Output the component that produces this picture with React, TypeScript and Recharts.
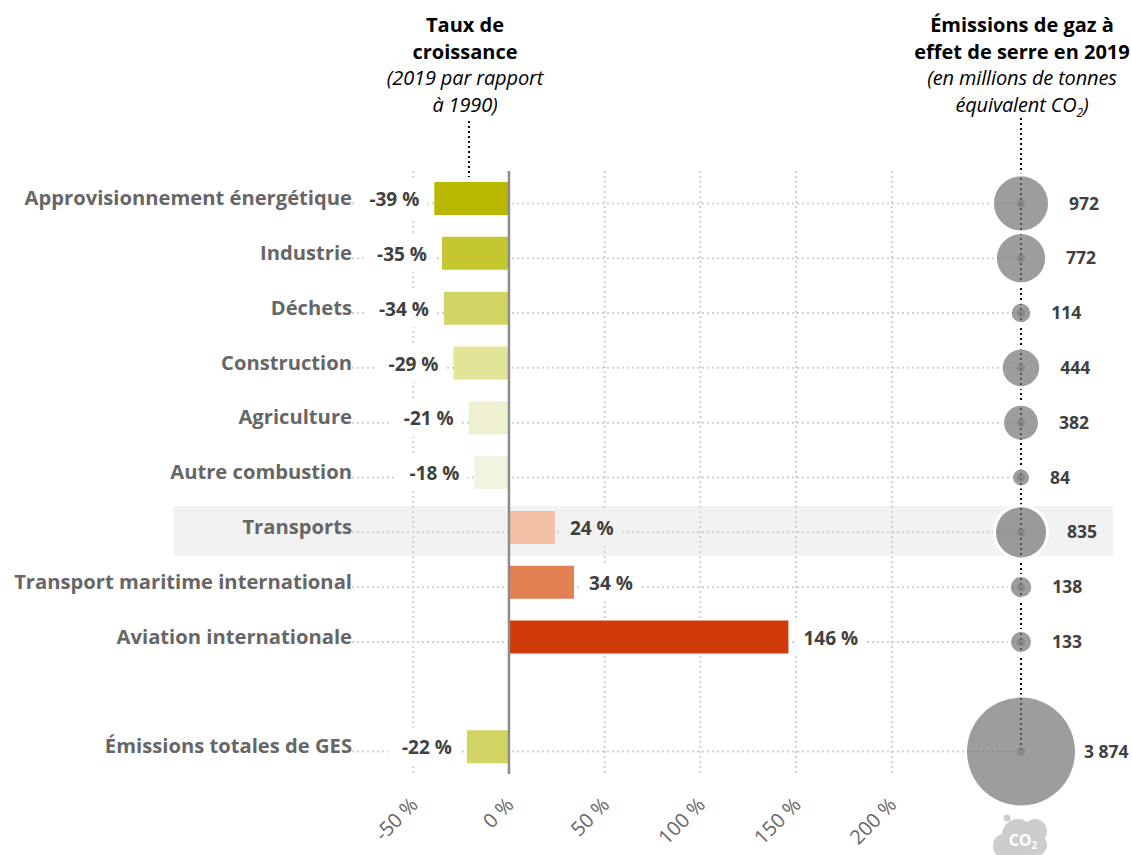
import React from 'react';
import {
  Bar,
  CartesianGrid,
  Cell,
  ComposedChart,
  LabelList,
  ReferenceLine,
  Scatter,
  XAxis,
  YAxis,
  ZAxis,
} from 'recharts';

const sectors = [
  'Approvisionnement énergétique',
  'Industrie',
  'Déchets',
  'Construction',
  'Agriculture',
  'Autre combustion',
  'Transports',
  'Transport maritime international',
  'Aviation internationale',
  ' ',
  'Émissions totales de GES',
];
const growthRates = [-39, -35, -34, -29, -21, -18, 24, 34, 146, null, -22];
const emissions = [972, 772, 114, 444, 382, 84, 835, 138, 133, null, 3874];
const barColors = [
  '#b8b900',
  '#c4c72f',
  '#d2d464',
  '#e2e498',
  '#eff0cf',
  '#f2f4e2',
  '#f4c1a7',
  '#e28054',
  '#d13b0c',
  '#ffffff',
  '#d2d464',
];
const percentTicks = [-50, 0, 50, 100, 150, 200];

const rows = sectors.map((name, i) => ({
  name,
  growth: growthRates[i],
  emissions: emissions[i],
}));

const FONT = '"Open Sans", sans-serif';
const HIGHLIGHT = 'Transports';
const BAND_GREY = '#f2f2f2';
// the bubble column sits on the right edge of the plot
const DOMAIN: [number, number] = [-82, 267.5];
const BUBBLE_COLUMN = DOMAIN[1];
const MAX_BUBBLE_RADIUS = 54;

const formatPercent = (v: number) => `${v} %`;
const formatTonnes = (v: number) =>
  String(v).replace(/\B(?=(\d{3})+$)/g, ' ');

const GrowthLabel = (props: any) => {
  const { x, y, width, height, value, index } = props;
  if (value == null) return null;
  const left = Math.min(x, x + width);
  const right = Math.max(x, x + width);
  const text = formatPercent(value);
  // white box knocks the dotted grid out behind the figure
  const textWidth = text.length * 10.7;
  const textX = value < 0 ? left - 15 : right + 15;
  const boxX = value < 0 ? textX - textWidth - 10 : textX - 8;
  const midY = y + height / 2;
  const fill = rows[index]?.name === HIGHLIGHT ? BAND_GREY : '#fff';
  return (
    <g>
      <rect
        x={boxX}
        y={midY - 19}
        width={textWidth + 18}
        height={38}
        fill={fill}
      />
      <text
        x={textX}
        y={midY + 1}
        dy="0.35em"
        textAnchor={value < 0 ? 'end' : 'start'}
        fontFamily={FONT}
        fontWeight={700}
        fontSize={19}
        fill="#404040"
      >
        {text}
      </text>
    </g>
  );
};

const Bubble = (props: any) => {
  const { cx, cy, payload } = props;
  if (payload.emissions == null) return <g />;
  const r = MAX_BUBBLE_RADIUS * Math.sqrt(payload.emissions / 3874);
  const gap = payload.emissions > 3000 ? 9 : 21;
  return (
    <g>
      <circle cx={cx} cy={cy} r={r + 1.5} fill="none" stroke="#fff" strokeWidth={3} />
      <circle cx={cx} cy={cy} r={r} fill="#747474" fillOpacity={0.7} />
      <circle cx={cx} cy={cy} r={4} fill="#7c7c7c" fillOpacity={0.6} />
      <text
        x={cx + r + gap}
        y={cy}
        dy="0.35em"
        fontFamily={FONT}
        fontWeight={700}
        fontSize={17.5}
        fill="#404040"
      >
        {formatTonnes(payload.emissions)}
      </text>
    </g>
  );
};

const titleStyle: React.CSSProperties = {
  position: 'absolute',
  textAlign: 'center',
  fontFamily: FONT,
  fontSize: 20,
  lineHeight: '26.6px',
  color: '#000',
};

const ColumnTitle = ({
  center,
  bold,
  italic,
}: {
  center: number;
  bold: React.ReactNode;
  italic: React.ReactNode;
}) => (
  <div style={{ ...titleStyle, left: center - 130, width: 260, top: 12 }}>
    <div style={{ fontWeight: 700 }}>{bold}</div>
    <div style={{ fontStyle: 'italic', letterSpacing: -0.15 }}>{italic}</div>
  </div>
);

// highlight strip and the two dark leaders from the column titles
const Underlay = () => (
  <svg
    width={1132}
    height={855}
    style={{ position: 'absolute', left: 0, top: 0 }}
  >
    <rect x={174} y={506} width={939} height={50} fill={BAND_GREY} />
    <line
      x1={469}
      y1={121}
      x2={469}
      y2={177}
      stroke="#000"
      strokeWidth={2}
      strokeDasharray="2 3"
    />
    <line
      x1={1021}
      y1={118}
      x2={1021}
      y2={751}
      stroke="#000"
      strokeWidth={2}
      strokeDasharray="2 3"
    />
  </svg>
);

const Co2Cloud = () => (
  <svg
    width={1132}
    height={855}
    style={{ position: 'absolute', left: 0, top: 0, pointerEvents: 'none' }}
  >
    <g fill="#cdcdcd">
      <circle cx={1007} cy={818} r={3.5} />
      <circle cx={1018} cy={835} r={16} />
      <circle cx={1006} cy={846} r={13} />
      <circle cx={1035} cy={831} r={12} />
      <circle cx={1036} cy={845} r={11} />
      <circle cx={1022} cy={850} r={15} />
    </g>
    <text
      x={1023}
      y={846}
      textAnchor="middle"
      fontFamily={FONT}
      fontWeight={700}
      fontSize={16}
      fill="#fff"
    >
      CO
      <tspan fontSize={10} dy={3}>
        2
      </tspan>
    </text>
  </svg>
);

export default function App() {
  return (
    <div
      style={{
        position: 'absolute',
        left: 0,
        top: 0,
        width: 1132,
        height: 855,
        overflow: 'hidden',
        background: '#fff',
      }}
    >
      <Underlay />
      <ComposedChart
        width={1132}
        height={855}
        data={rows}
        layout="vertical"
        margin={{ top: 171, right: 111, bottom: 0, left: 0 }}
        barCategoryGap={0}
        style={{ position: 'absolute', left: 0, top: 0 }}
      >
        <CartesianGrid
          horizontal={false}
          syncWithTicks
          stroke="#cfcfcf"
          strokeWidth={2}
          strokeDasharray="2 3"
        />
        <XAxis
          type="number"
          domain={DOMAIN}
          ticks={percentTicks}
          tickFormatter={formatPercent}
          axisLine={false}
          tickLine={false}
          height={81}
          angle={-45}
          textAnchor="end"
          tickSize={0}
          tickMargin={22}
          interval={0}
          tick={{ fontFamily: FONT, fontSize: 20, fill: '#666', dx: -4 }}
        />
        <YAxis
          type="category"
          dataKey="name"
          width={352}
          interval={0}
          axisLine={false}
          tickLine={false}
          tickSize={0}
          tickMargin={0}
          tick={{
            fontFamily: FONT,
            fontSize: 20.2,
            fontWeight: 700,
            fill: '#666',
            dy: -0.5,
          }}
        />
        {/* the dotted rows and bubbles run a few pixels below the bar centres */}
        <YAxis
          yAxisId="rows"
          type="category"
          dataKey="name"
          hide
          padding={{ top: 5, bottom: -5 }}
        />
        <ZAxis dataKey="emissions" />
        {sectors
          .filter((name) => name.trim())
          .map((name) => (
            <ReferenceLine
              key={name}
              y={name}
              yAxisId="rows"
              zIndex={50}
              stroke="#cfcfcf"
              strokeWidth={2}
              strokeDasharray="2 3"
            />
          ))}
        <Bar dataKey="growth" barSize={33} isAnimationActive={false}>
          {rows.map((row, i) => (
            <Cell key={row.name} fill={barColors[i]} />
          ))}
          <LabelList dataKey="growth" content={GrowthLabel} />
        </Bar>
        <ReferenceLine x={0} stroke="#8c8c8c" strokeWidth={2.5} />
        <Scatter
          dataKey={() => BUBBLE_COLUMN}
          yAxisId="rows"
          shape={Bubble}
          isAnimationActive={false}
        />
      </ComposedChart>
      <ColumnTitle
        center={465}
        bold={
          <>
            Taux de
            <br />
            croissance
          </>
        }
        italic={
          <>
            (2019 par rapport
            <br />à 1990)
          </>
        }
      />
      <ColumnTitle
        center={1022}
        bold={
          <>
            Émissions de gaz à
            <br />
            effet de serre en 2019
          </>
        }
        italic={
          <>
            (en millions de tonnes
            <br />
            équivalent CO
            <sub style={{ fontSize: 12, lineHeight: 0 }}>2</sub>)
          </>
        }
      />
      <Co2Cloud />
    </div>
  );
}
